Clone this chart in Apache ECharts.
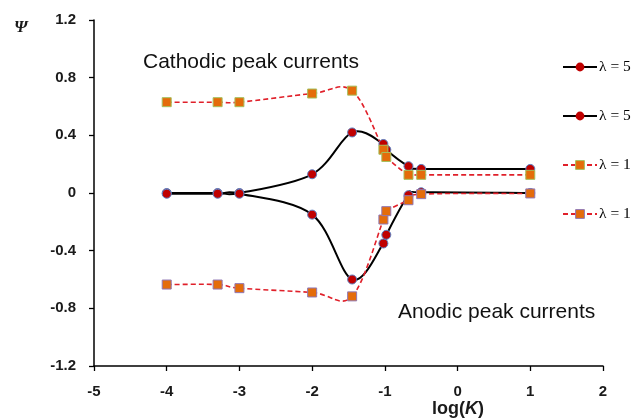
<!DOCTYPE html>
<html>
<head>
<meta charset="utf-8">
<script src="https://cdn.jsdelivr.net/npm/echarts@6/dist/echarts.min.js"></script>
<style>html,body{margin:0;padding:0;background:#fff}#c{width:632px;height:420px}</style>
</head>
<body>
<div id="c"></div>
<script>
// log(K) positions
var logK = [-4, -3.3, -3, -2, -1.45, -1.02, -0.98, -0.675, -0.5, 1];
// Psi values
var cathodicL5 = [0.0, 0.0, 0.0, 0.13, 0.42, 0.34, 0.30, 0.186, 0.167, 0.167];
var anodicL5   = [-0.005, -0.005, -0.005, -0.15, -0.60, -0.35, -0.29, -0.015, 0.005, 0.0];
var cathodicL1 = [0.63, 0.63, 0.63, 0.69, 0.71, 0.30, 0.25, 0.126, 0.126, 0.126];
var anodicL1   = [-0.635, -0.635, -0.66, -0.69, -0.717, -0.184, -0.126, -0.05, -0.008, -0.003];
var xTicks = [-5, -4, -3, -2, -1, 0, 1, 2];
var yTicks = [-1.2, -0.8, -0.4, 0, 0.4, 0.8, 1.2];
var seriesNames = ['λ = 5', 'λ = 5 ', 'λ = 1', 'λ = 1 '];

function pairs(ys) { return logK.map(function (x, i) { return [x, ys[i]]; }); }

// Smoothed (Excel-like) curve drawn through the chart's own coordinate system
function curveSeries(id, ys, color, width, dash) {
  return {
    type: 'custom', name: id, data: pairs(ys), silent: true, z: 2,
    renderItem: function (params, api) {
      var i = params.dataIndex, n = logK.length;
      if (i >= n - 1) return null;
      function p(k) { k = Math.max(0, Math.min(n - 1, k)); return api.coord([logK[k], ys[k]]); }
      var p0 = p(i - 1), p1 = p(i), p2 = p(i + 1), p3 = p(i + 2), t = 1 / 6;
      return {
        type: 'bezierCurve',
        shape: {
          x1: p1[0], y1: p1[1], x2: p2[0], y2: p2[1],
          cpx1: p1[0] + (p2[0] - p0[0]) * t, cpy1: p1[1] + (p2[1] - p0[1]) * t,
          cpx2: p2[0] - (p3[0] - p1[0]) * t, cpy2: p2[1] - (p3[1] - p1[1]) * t
        },
        style: {stroke: color, lineWidth: width, lineDash: dash, fill: null}
      };
    }
  };
}

function markerSeries(name, ys, symbol, lineColor, lineWidth, lineType, fill, border) {
  return {
    name: name, type: 'line', data: pairs(ys), z: 3,
    symbol: symbol, symbolSize: 9, showSymbol: true,
    lineStyle: {color: lineColor, width: lineWidth, type: lineType, opacity: 0},
    itemStyle: {color: fill, borderColor: border, borderWidth: 1}
  };
}

var chart = echarts.init(document.getElementById('c'), null, {renderer: 'canvas'});
var labelFont = {fontFamily: 'Liberation Sans', fontWeight: 'bold', fontSize: 15, color: '#1a1a1a'};
var RED = '#e0202a', BLK = '#000', DASH = [5, 3];

chart.setOption({
  animation: false,
  backgroundColor: '#fff',
  grid: {left: 94, right: 29, top: 20, bottom: 54},
  legend: {
    orient: 'vertical', left: 557, top: 54,
    itemWidth: 34, itemHeight: 11, itemGap: 33,
    data: seriesNames.map(function (n, i) {
      return {name: n, lineStyle: {opacity: 1}, itemStyle: {borderWidth: i < 2 ? 0 : 1}};
    }),
    textStyle: {fontFamily: 'Liberation Serif', fontSize: 15.5, color: '#000', padding: [0, 0, 0, -3]}
  },
  xAxis: {
    type: 'value', min: xTicks[0], max: xTicks[xTicks.length - 1], interval: 1,
    axisLine: {onZero: false, lineStyle: {color: '#000', width: 1.5}},
    axisTick: {show: true, length: 5, inside: false, lineStyle: {color: '#000', width: 1.3}},
    axisLabel: Object.assign({margin: 18}, labelFont),
    splitLine: {show: false}
  },
  yAxis: {
    type: 'value', min: yTicks[0], max: yTicks[yTicks.length - 1], interval: 0.4,
    axisLine: {show: true, onZero: false, lineStyle: {color: '#000', width: 1.5}},
    axisTick: {show: true, length: 5, lineStyle: {color: '#000', width: 1.3}},
    axisLabel: Object.assign({margin: 18}, labelFont),
    splitLine: {show: false}
  },
  graphic: [
    {type: 'text', left: 14, top: 19, style: {text: 'Ψ', font: 'italic bold 17px "Liberation Serif"', fill: '#1a1a1a'}},
    {type: 'text', left: 143, top: 52, style: {text: 'Cathodic peak currents', font: '21px "Liberation Sans"', fill: '#111'}},
    {type: 'text', left: 398, top: 302, style: {text: 'Anodic peak currents', font: '21px "Liberation Sans"', fill: '#111'}},
    {type: 'text', x: 458, y: 409, style: {
      text: '{a|log(}{b|K}{a|)}', textAlign: 'center', textVerticalAlign: 'middle',
      rich: {
        a: {fontFamily: 'Liberation Sans', fontWeight: 'bold', fontSize: 18, fill: '#1a1a1a'},
        b: {fontFamily: 'Liberation Sans', fontWeight: 'bold', fontStyle: 'italic', fontSize: 18, fill: '#1a1a1a'}
      }}}
  ],
  series: [
    curveSeries('c5', cathodicL5, BLK, 2, null),
    curveSeries('a5', anodicL5, BLK, 2, null),
    curveSeries('c1', cathodicL1, RED, 1.6, DASH),
    curveSeries('a1', anodicL1, RED, 1.6, DASH),
    markerSeries(seriesNames[0], cathodicL5, 'circle', BLK, 2, 'solid', '#c00000', '#5b7fc2'),
    markerSeries(seriesNames[1], anodicL5, 'circle', BLK, 2, 'solid', '#c00000', '#5b7fc2'),
    markerSeries(seriesNames[2], cathodicL1, 'rect', RED, 1.6, DASH, '#e46c0a', '#a5c05e'),
    markerSeries(seriesNames[3], anodicL1, 'rect', RED, 1.6, DASH, '#e46c0a', '#9077b5')
  ]
});
</script>
</body>
</html>
